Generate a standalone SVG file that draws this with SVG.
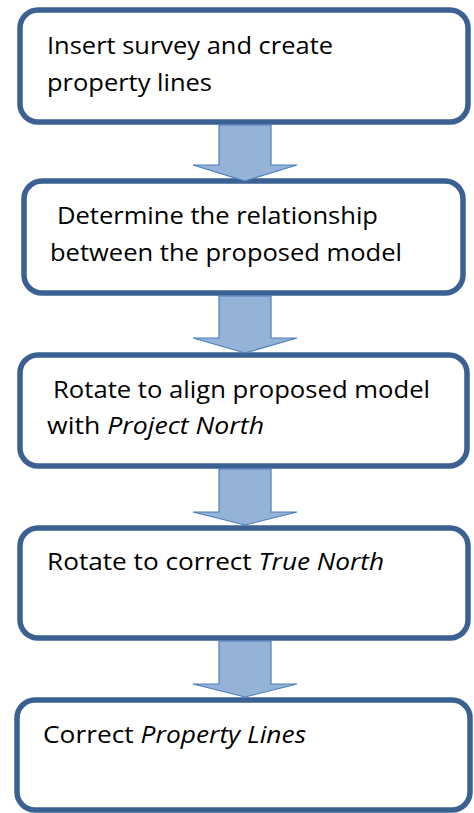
<svg xmlns="http://www.w3.org/2000/svg" width="474" height="813" viewBox="0 0 474 813">
<style>
.box{fill:#ffffff;stroke:#3A6192;stroke-width:5.5}
.arr{fill:#95B3D7;stroke:#4A7EBB;stroke-width:1.2;stroke-linejoin:miter}
.t{font-family:"Open Sans","Liberation Sans",sans-serif;font-size:24px;fill:#000000}
.i{font-style:italic}
</style>
<rect width="474" height="813" fill="#ffffff"/>
<g id="node1">
<rect class="box" x="20" y="10" width="448" height="112" rx="18"/>
<text class="t" x="47" y="54" textLength="286" lengthAdjust="spacingAndGlyphs">Insert survey and create</text>
<text class="t" x="47" y="91" textLength="165" lengthAdjust="spacingAndGlyphs">property lines</text>
</g>
<g id="node2">
<rect class="box" x="24" y="181" width="439" height="112" rx="18"/>
<text class="t" x="57" y="224" textLength="321" lengthAdjust="spacingAndGlyphs">Determine the relationship</text>
<text class="t" x="50" y="261" textLength="352" lengthAdjust="spacingAndGlyphs">between the proposed model</text>
</g>
<g id="node3">
<rect class="box" x="20" y="355" width="447" height="111" rx="18"/>
<text class="t" x="53" y="398" textLength="377" lengthAdjust="spacingAndGlyphs">Rotate to align proposed model</text>
<text class="t" x="47" y="434" textLength="217" lengthAdjust="spacingAndGlyphs">with <tspan class="i">Project North</tspan></text>
</g>
<g id="node4">
<rect class="box" x="20" y="528" width="448" height="110" rx="18"/>
<text class="t" x="47" y="570" textLength="337" lengthAdjust="spacingAndGlyphs">Rotate to correct <tspan class="i">True North</tspan></text>
</g>
<g id="node5">
<rect class="box" x="17" y="700" width="453" height="110" rx="18"/>
<text class="t" x="43" y="743" textLength="263" lengthAdjust="spacingAndGlyphs">Correct <tspan class="i">Property Lines</tspan></text>
</g>
<g id="connectors">
<polygon class="arr" points="219,125 271,125 271,165 297,165 245,181 193,165 219,165"/>
<polygon class="arr" points="219,296 271,296 271,338 297,338 245,353 193,338 219,338"/>
<polygon class="arr" points="219,469 271,469 271,512 297,512 245,525 193,512 219,512"/>
<polygon class="arr" points="219,641 271,641 271,684 297,684 245,697 193,684 219,684"/>
</g>
</svg>
